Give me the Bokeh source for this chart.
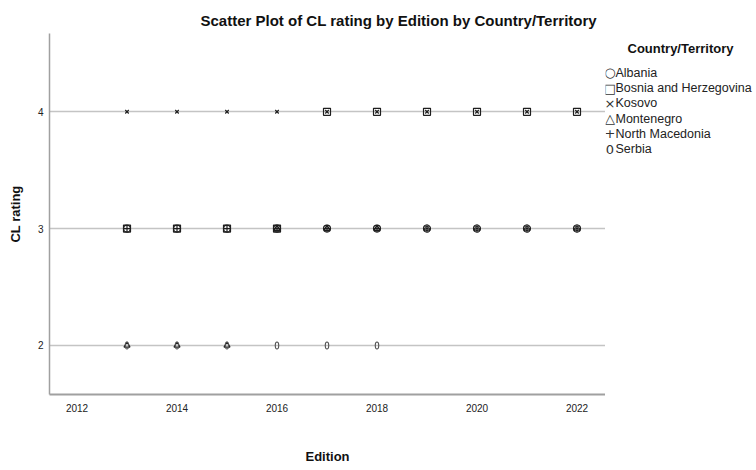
from bokeh.plotting import figure
from bokeh.layouts import row
from bokeh.models import FixedTicker, Range1d
from bokeh.core.properties import value
from bokeh.embed import file_html
from bokeh.resources import INLINE

# ---- data ----
editions = [2013, 2014, 2015, 2016, 2017, 2018, 2019, 2020, 2021, 2022]
albania = [3, 3, 3, 3, 3, 3, 3, 3, 3, 3]
bosnia = [3, 3, 3, 3, 4, 4, 4, 4, 4, 4]
kosovo = [4, 4, 4, 4, 4, 4, 4, 4, 4, 4]
montenegro = [2, 2, 2, 3, 3, 3, 3, 3, 3, 3]
north_macedonia = [3, 3, 3, 3, 3, 3, 3, 3, 3, 3]
serbia = [2, 2, 2, 2, 2, 2, 3, 3, 3, 3]

countries = ["Albania", "Bosnia and Herzegovina", "Kosovo", "Montenegro",
             "North Macedonia", "Serbia"]
legend_symbols = ["\u25CB", "\u25A1", "\u00D7", "\u25B3", "+", "0"]
x_ticks = [2012, 2014, 2016, 2018, 2020, 2022]
y_ticks = [2, 3, 4]

FONT = "Liberation Sans"
INK = "#1e1e1e"
H = 466
FRAME_TOP, FRAME_BOTTOM = 33, 396

p = figure(width=605, height=H, output_backend="svg", toolbar_location=None,
           x_range=Range1d(2011.45, 2022.57), y_range=Range1d(1.58, 4.67),
           min_border_left=49, min_border_right=0, min_border_top=FRAME_TOP,
           min_border_bottom=H - FRAME_BOTTOM)
p.outline_line_color = None
p.background_fill_color = "white"
p.border_fill_color = "white"

# title
p.title.text = "Scatter Plot of CL rating by Edition by Country/Territory"
p.title.align = "left"
p.title.offset = 151
p.title.standoff = 10
p.title.text_font = FONT
p.title.text_font_size = "15px"
p.title.text_font_style = "bold"
p.title.text_color = "#111111"

# axes
p.xaxis.ticker = FixedTicker(ticks=x_ticks)
p.yaxis.ticker = FixedTicker(ticks=y_ticks)
for ax in (p.xaxis[0], p.yaxis[0]):
    ax.major_tick_out = 0
    ax.major_tick_in = 0
    ax.minor_tick_out = 0
    ax.minor_tick_in = 0
    ax.axis_line_color = "#a0a0a0"
    ax.major_label_text_font = FONT
    ax.major_label_text_font_size = "10px"
    ax.major_label_text_color = "#222222"
    ax.axis_label_text_font = FONT
    ax.axis_label_text_font_size = "13px"
    ax.axis_label_text_font_style = "bold"
    ax.axis_label_text_color = "#111111"
p.xaxis.axis_line_width = 2
p.yaxis.axis_line_width = 1.5
p.xaxis.axis_label = "Edition"
p.yaxis.axis_label = "CL rating"
p.xaxis.major_label_standoff = 9
p.yaxis.major_label_standoff = 6
p.xaxis.axis_label_standoff = 34
p.yaxis.axis_label_standoff = 12

p.xgrid.grid_line_color = None
p.ygrid.ticker = FixedTicker(ticks=y_ticks)
p.ygrid.grid_line_color = "#c4c4c4"
p.ygrid.grid_line_width = 1.5

# points
p.scatter(editions, albania, marker="circle", size=7, fill_color=None,
          line_color=INK, line_width=1.2)
p.scatter(editions, bosnia, marker="square", size=7, fill_color=None,
          line_color=INK, line_width=1.2)
p.scatter(editions, kosovo, marker="x", size=5, line_color=INK, line_width=1.2)
p.scatter(editions, montenegro, marker="triangle", size=6, fill_color=None,
          line_color=INK, line_width=1.2)
p.scatter(editions, north_macedonia, marker="cross", size=7, line_color=INK,
          line_width=1.2)
p.ellipse(editions, serbia, width=3.5, height=7, width_units="screen",
          height_units="screen", fill_color=None, line_color="#555555",
          line_width=1.1)

# ---- legend panel (pixel-space figure to the right; its frame is aligned
# vertically with the main frame, so its y range uses page pixels) ----
LW = 151
X0 = 605
lg = figure(width=LW, height=H, output_backend="svg", toolbar_location=None,
            x_range=Range1d(X0, X0 + LW), y_range=Range1d(FRAME_BOTTOM, FRAME_TOP),
            x_axis_location=None, y_axis_location=None,
            min_border_left=0, min_border_right=0, min_border_top=FRAME_TOP,
            min_border_bottom=H - FRAME_BOTTOM)
lg.outline_line_color = None
lg.xgrid.grid_line_color = None
lg.ygrid.grid_line_color = None
lg.background_fill_color = "white"
lg.border_fill_color = "white"

lg.text(x=[680], y=[48], text=["Country/Territory"], text_font=value(FONT),
        text_font_size="13px", text_font_style="bold", text_color="#111111",
        text_align="center", text_baseline="middle")
rows_y = [72.7 + 15.3 * i for i in range(len(countries))]
lg.text(x=[609.5] * len(countries), y=rows_y, text=legend_symbols,
        text_font=value("DejaVu Sans"), text_font_size="13px",
        text_color="#333333", text_align="center", text_baseline="middle")
lg.text(x=[615] * len(countries), y=rows_y, text=countries,
        text_font=value(FONT), text_font_size="12.5px", text_color="#222222",
        text_align="left", text_baseline="middle")

layout = row(p, lg, spacing=0)
open("out.html", "w").write(file_html(layout, INLINE))
